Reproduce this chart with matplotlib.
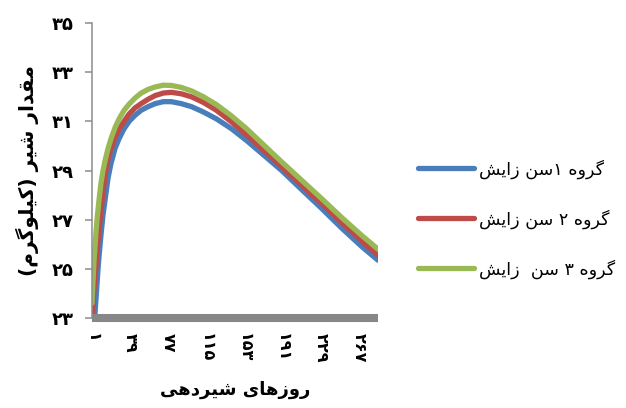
import matplotlib
matplotlib.use('Agg')
import matplotlib.pyplot as plt

# lactation days
days = [1, 2, 3, 4, 5, 6, 7, 8, 10, 12, 14, 17, 20, 24, 28, 33, 38, 44, 50, 57,
        64, 72, 80, 90, 100, 112, 125, 140, 155, 170, 190, 210, 230, 250, 270, 286]

milk_g1 = [21.5, 22.2, 22.8, 23.2, 23.8, 24.4, 25.0, 25.5, 26.4, 27.2, 27.8, 28.7,
           29.3, 29.9, 30.3, 30.7, 31.0, 31.25, 31.45, 31.6, 31.72, 31.8, 31.8, 31.72,
           31.6, 31.38, 31.1, 30.7, 30.22, 29.7, 29.0, 28.22, 27.45, 26.65, 25.9, 25.35]
milk_g2 = [23.0, 23.6, 24.2, 24.7, 25.1, 25.7, 26.2, 26.6, 27.4, 28.1, 28.8, 29.5,
           29.9, 30.35, 30.7, 31.0, 31.3, 31.55, 31.72, 31.9, 32.05, 32.15, 32.18, 32.12,
           32.0, 31.77, 31.45, 30.98, 30.45, 29.9, 29.15, 28.4, 27.65, 26.88, 26.12, 25.55]
milk_g3 = [23.6, 24.5, 25.3, 25.9, 26.5, 27.0, 27.4, 27.8, 28.5, 29.0, 29.4, 29.9,
           30.3, 30.75, 31.1, 31.45, 31.7, 31.95, 32.15, 32.3, 32.4, 32.47, 32.46, 32.38,
           32.24, 32.0, 31.68, 31.22, 30.7, 30.12, 29.35, 28.6, 27.85, 27.08, 26.35, 25.8]

labels = ["گروه ۱سن زایش", "گروه ۲ سن زایش", "گروه ۳ سن  زایش"]
colors = ["#4A7EBB", "#BE4B48", "#98B954"]

x_ticks = [1, 39, 77, 115, 153, 191, 229, 267]
y_ticks = [23, 25, 27, 29, 31, 33, 35]

# matplotlib has no arabic shaping -> do it by hand with presentation forms
FORMS = {  # isolated, final, initial, medial
    'ا': ('\uFE8D', '\uFE8E', None, None),
    'د': ('\uFEA9', '\uFEAA', None, None),
    'ر': ('\uFEAD', '\uFEAE', None, None),
    'ز': ('\uFEAF', '\uFEB0', None, None),
    'و': ('\uFEED', '\uFEEE', None, None),
    'س': ('\uFEB1', '\uFEB2', '\uFEB3', '\uFEB4'),
    'ش': ('\uFEB5', '\uFEB6', '\uFEB7', '\uFEB8'),
    'ق': ('\uFED5', '\uFED6', '\uFED7', '\uFED8'),
    'ل': ('\uFEDD', '\uFEDE', '\uFEDF', '\uFEE0'),
    'م': ('\uFEE1', '\uFEE2', '\uFEE3', '\uFEE4'),
    'ن': ('\uFEE5', '\uFEE6', '\uFEE7', '\uFEE8'),
    'ه': ('\uFEE9', '\uFEEA', '\uFEEB', '\uFEEC'),
    'ی': ('\uFBFC', '\uFBFD', '\uFBFE', '\uFBFF'),
    'ک': ('\uFB8E', '\uFB8F', '\uFB90', '\uFB91'),
    'گ': ('\uFB92', '\uFB93', '\uFB94', '\uFB95'),
}
FA_DIGITS = str.maketrans('0123456789', '۰۱۲۳۴۵۶۷۸۹')


def dual(ch):
    return ch in FORMS and FORMS[ch][2] is not None


def rtl(text):
    shaped = []
    for i, ch in enumerate(text):
        if ch not in FORMS:
            shaped.append(ch)
            continue
        prev = text[i - 1] if i > 0 else ''
        nxt = text[i + 1] if i + 1 < len(text) else ''
        jp = dual(prev)
        jn = dual(ch) and nxt in FORMS
        iso, fin, ini, med = FORMS[ch]
        if jp and jn:
            shaped.append(med)
        elif jp:
            shaped.append(fin)
        elif jn:
            shaped.append(ini)
        else:
            shaped.append(iso)
    # split in runs, digits keep their order
    runs = []
    for ch in shaped:
        if ch in '۰۱۲۳۴۵۶۷۸۹' and runs and runs[-1][0] in '۰۱۲۳۴۵۶۷۸۹':
            runs[-1] += ch
        else:
            runs.append(ch)
    out = ''.join(reversed(runs))
    return out.translate(str.maketrans('()', ')('))


def fa(n):
    return str(n).translate(FA_DIGITS)


fig = plt.figure(figsize=(6.26, 4.08), dpi=100)
ax = fig.add_axes([92 / 626, 1 - 318 / 408, (378 - 92) / 626, (318 - 23) / 408])

for vals, lab, col in zip([milk_g1, milk_g2, milk_g3], labels, colors):
    ax.plot(days, vals, color=col, lw=3.8, solid_capstyle='round',
            solid_joinstyle='round', label=rtl(lab))

ax.set_xlim(1, 286)
ax.set_ylim(23, 35)

for s in ['top', 'right']:
    ax.spines[s].set_visible(False)
ax.spines['left'].set_color('#8c8c8c')
ax.spines['left'].set_linewidth(1.1)
ax.spines['bottom'].set_color('#878787')
ax.spines['bottom'].set_linewidth(5.8)
ax.spines['bottom'].set_capstyle('butt')

ax.set_yticks(y_ticks)
ax.set_yticklabels([fa(v) for v in y_ticks], fontsize=13, fontweight='bold')
ax.tick_params(axis='y', direction='out', length=5, width=1.1, color='#8c8c8c', pad=8)

ax.set_xticks(x_ticks)
ax.set_xticklabels([fa(v) for v in x_ticks], rotation=-90, fontsize=11.5, fontweight='bold')
ax.tick_params(axis='x', length=0, pad=11)

ax.set_ylabel(rtl("مقدار شیر (کیلوگرم)"), fontsize=14.5, fontweight='bold', labelpad=9)
ax.set_xlabel(rtl("روزهای شیردهی"), fontsize=13, fontweight='bold', labelpad=13)

fig.legend(loc='center left', bbox_to_anchor=(418 / 626, 1 - 219 / 408),
           frameon=False, fontsize=12.6, handlelength=3.2, handletextpad=0.3,
           labelspacing=1.75, borderpad=0, borderaxespad=0)

fig.savefig('out.png', dpi=100)
